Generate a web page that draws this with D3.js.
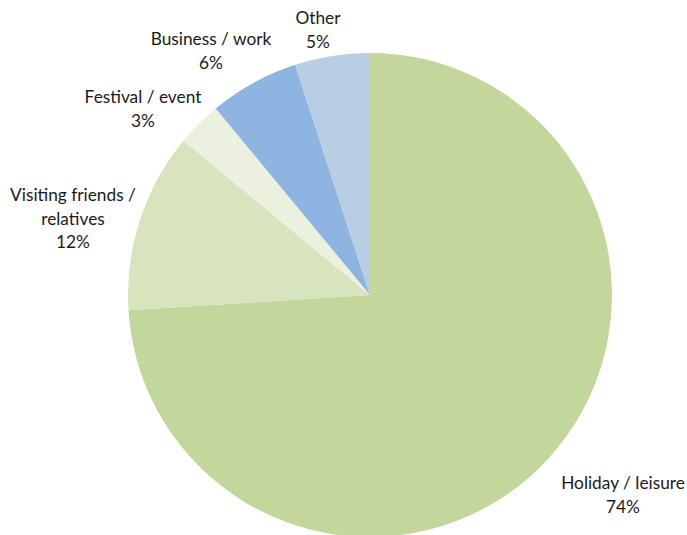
<!DOCTYPE html>
<html>
<head>
<meta charset="utf-8">
<script src="https://cdn.jsdelivr.net/npm/d3@7"></script>
<style>
  html, body { margin: 0; padding: 0; background: #fff; }
  svg { display: block; }
  text { font-family: Lato, "Open Sans", sans-serif; font-size: 17.3px; fill: #1a1a1a; }
</style>
</head>
<body>
<svg id="chart" width="687" height="535"></svg>
<script>
// Purpose of visit, share of trips (%)
const categories = ["Holiday / leisure", "Visiting friends / relatives", "Festival / event", "Business / work", "Other"];
const values = [74, 12, 3, 6, 5];
const labelLines = [["Holiday / leisure"], ["Visiting friends /", "relatives"], ["Festival / event"], ["Business / work"], ["Other"]];
const colors = ["#c3d69b", "#d7e4bd", "#ebf1de", "#8eb4e2", "#b9cde5"];

// Layout
const width = 687, height = 535;
const cx = 370, cy = 295, radius = 242;
const lineH = 23.5;
// first-line baseline of each label block
const labelAnchor = {
  "Holiday / leisure": [623, 489],
  "Visiting friends / relatives": [73, 201],
  "Festival / event": [143, 103],
  "Business / work": [211, 45],
  "Other": [318, 24]
};

const svg = d3.select("#chart");
const g = svg.append("g").attr("transform", `translate(${cx},${cy})`);

const pie = d3.pie().sort(null).value(d => d.value);
const arc = d3.arc().innerRadius(0).outerRadius(radius);
const data = categories.map((c, i) => ({ category: c, value: values[i], lines: labelLines[i], color: colors[i] }));
const arcs = pie(data);

g.selectAll("path.slice")
  .data(arcs)
  .join("path")
  .attr("class", "slice")
  .attr("d", arc)
  .attr("fill", d => d.data.color);

const labels = svg.selectAll("text.label")
  .data(arcs)
  .join("text")
  .attr("class", "label")
  .attr("text-anchor", "middle");

labels.each(function (d) {
  const [x, y] = labelAnchor[d.data.category];
  const t = d3.select(this);
  const lines = d.data.lines.concat([d.data.value + "%"]);
  lines.forEach((s, i) => {
    t.append("tspan").attr("x", x).attr("y", y + i * lineH).text(s);
  });
});
</script>
</body>
</html>
